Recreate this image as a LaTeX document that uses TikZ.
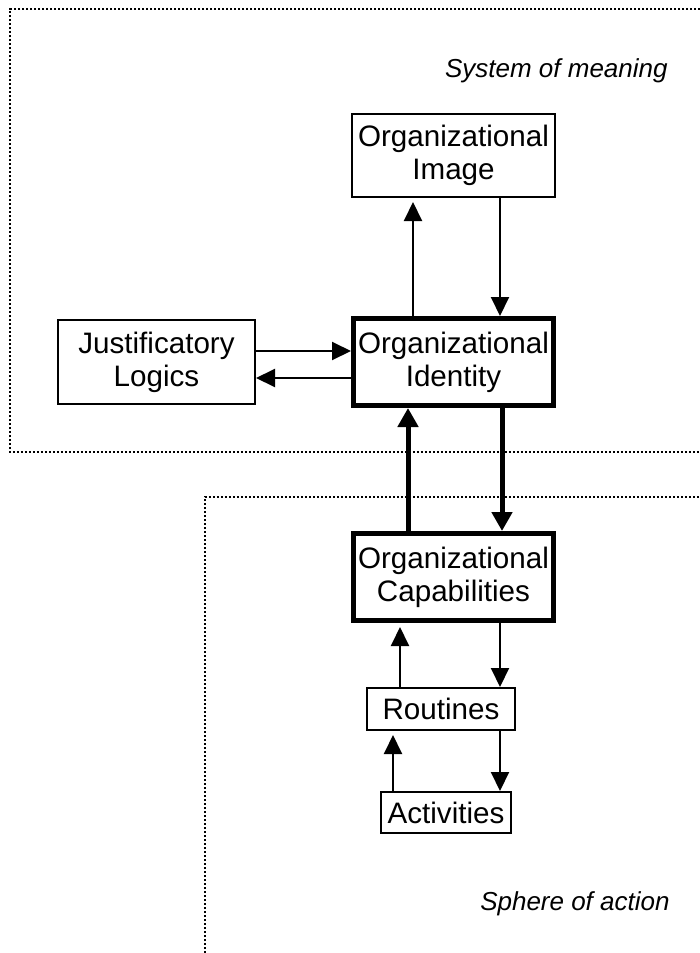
\documentclass[tikz,border=0pt]{standalone}
\usepackage{fontspec}
\setmainfont{Liberation Sans}
\usetikzlibrary{arrows.meta}
\begin{document}
\begin{tikzpicture}[x=0.5pt,y=-0.5pt,
  box/.style={draw,line width=1pt,align=center,inner sep=0pt,
    font=\fontsize{14.8}{16.5}\selectfont},
  bbox/.style={box,line width=2.5pt},
  thinarr/.style={line width=1pt,-{Triangle[length=9.5pt,width=9pt]}},
  thickarr/.style={line width=2.5pt,-{Triangle[length=9.5pt,width=10pt]}},
  region/.style={line width=1.2pt,dash pattern=on 1.1pt off 0.9pt},
  lbl/.style={font=\fontsize{13}{15}\selectfont\itshape,anchor=east,inner sep=0pt}]
\useasboundingbox (0,0) rectangle (700,953);
\draw[region] (700,9) -- (10,9) -- (10,452) -- (700,452);
\draw[region] (205,953) -- (205,497) -- (700,497);
\node[lbl] (som) at (668,71) {System of meaning};
\node[lbl] (soa) at (670,904) {Sphere of action};
\node[box,minimum width=101.5pt,minimum height=41.5pt] (img) at (453.5,155.5) {Organizational\\Image};
\node[box,minimum width=98.5pt,minimum height=42pt] (log) at (156.5,362) {Justificatory\\Logics};
\node[bbox,minimum width=100pt,minimum height=43.5pt] (idt) at (453.5,362) {Organizational\\Identity};
\node[bbox,minimum width=100pt,minimum height=43.5pt] (cap) at (453.5,577) {Organizational\\Capabilities};
\node[box,minimum width=74pt,minimum height=21pt] (rou) at (441,709) {Routines};
\node[box,minimum width=65pt,minimum height=20.5pt] (act) at (446,812.5) {Activities};
\draw[thinarr,shorten >=2pt] (idt.north -| 413,0) -- (img.south -| 413,0);
\draw[thinarr] (img.south -| 500,0) -- (idt.north -| 500,0);
\draw[thinarr] (log.east |- 0,351) -- (idt.west |- 0,351);
\draw[thinarr] (idt.west |- 0,378) -- (log.east |- 0,378);
\draw[thickarr] (cap.north -| 408,0) -- (idt.south -| 408,0);
\draw[thickarr] (idt.south -| 502,0) -- (cap.north -| 502,0);
\draw[thinarr,shorten >=2pt] (rou.north -| 400,0) -- (cap.south -| 400,0);
\draw[thinarr] (cap.south -| 500,0) -- (rou.north -| 500,0);
\draw[thinarr,shorten >=2pt] (act.north -| 393,0) -- (rou.south -| 393,0);
\draw[thinarr] (rou.south -| 500,0) -- (act.north -| 500,0);
\end{tikzpicture}
\end{document}
